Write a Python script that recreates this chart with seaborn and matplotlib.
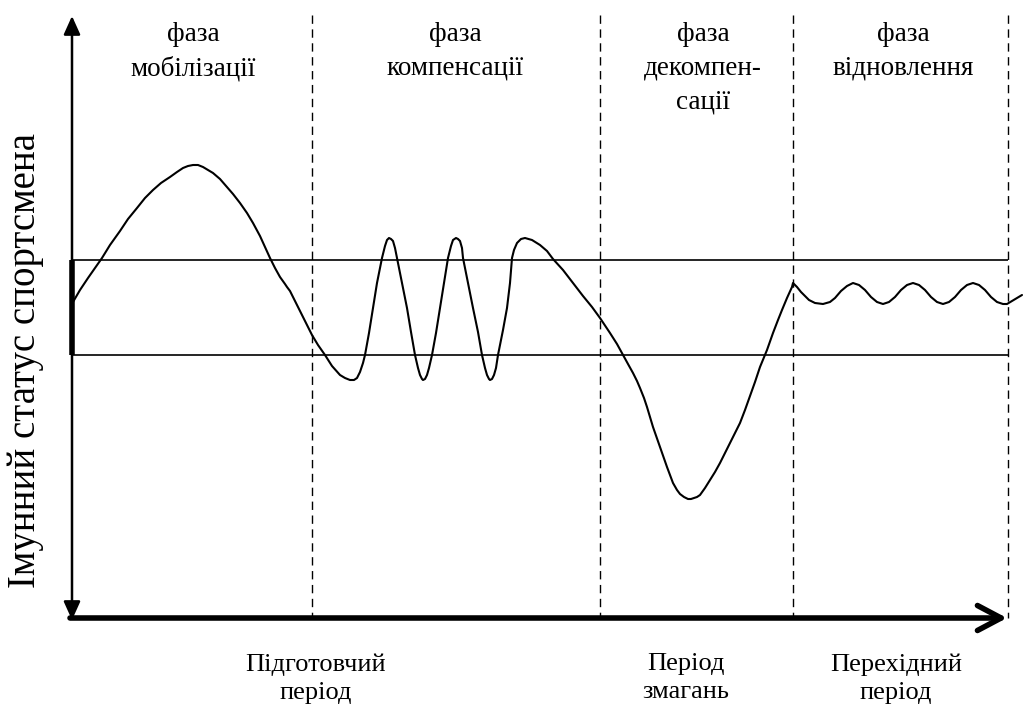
import numpy as np
import pandas as pd
import matplotlib
matplotlib.use('Agg')
import matplotlib.pyplot as plt
import seaborn as sns

# curve (x along time, y in picture rows, top = 0)
curve_x = [73, 80, 88, 95, 102, 110, 120, 128, 137, 145, 153, 161, 170, 177, 183, 188, 193, 198, 203, 208,
           213, 220, 227, 233, 240, 247, 253, 260, 265, 270, 275, 280, 285, 287, 290, 296, 303, 308, 312, 318,
           325, 332, 340, 345, 350, 354, 357, 360, 363, 365,
           369, 373, 377, 382, 385, 387, 389, 391, 393, 395, 397, 402, 407, 411, 415, 418, 420, 422, 423, 425,
           427, 429, 432,
           436, 440, 444, 448, 451, 453, 456, 458, 460, 462, 463, 468, 473, 478, 482, 485, 487, 489, 490, 492,
           494, 496, 498,
           503, 507, 510, 512, 514, 517, 521, 525, 532, 540, 547, 553, 563, 573, 583, 592, 600, 610, 617, 623,
           628, 633, 637, 640, 644, 647, 653, 660, 667, 673, 677, 680, 684, 688, 691, 694, 697, 700, 705, 710,
           715, 720, 730, 740, 745, 750, 755, 760, 767, 773, 778, 782, 787, 792,
           793, 797, 801, 805, 809, 815, 823, 830, 835, 841, 847, 853, 859, 865, 871, 877, 883, 889, 895, 901,
           907, 913, 919, 925, 931, 937, 943, 949, 955, 961, 967, 973, 979, 985, 991, 997, 1003, 1007, 1012,
           1017, 1022]
curve_y = [302, 290, 278, 268, 258, 245, 231, 219, 208, 198, 190, 183, 177, 172, 168, 166, 165, 165, 167, 170,
           173, 179, 187, 194, 203, 213, 223, 236, 247, 258, 268, 277, 284, 287, 291, 303, 317, 327, 335, 345,
           355, 366, 375, 378, 380, 380, 378, 372, 363, 355,
           333, 308, 283, 258, 246, 240, 238, 239, 241, 248, 258, 283, 308, 332, 355, 368, 375, 379, 380, 379,
           375, 368, 355,
           333, 308, 283, 258, 246, 240, 238, 239, 241, 248, 258, 283, 308, 332, 355, 368, 375, 379, 380, 379,
           375, 368, 355,
           330, 308, 283, 258, 250, 243, 239, 238, 240, 245, 251, 259, 270, 283, 296, 307, 318, 333, 344, 355,
           364, 373, 381, 388, 398, 407, 427, 447, 467, 483, 490, 494, 497, 499, 499, 498, 497, 495, 488, 480,
           472, 463, 443, 423, 410, 396, 382, 367, 350, 333, 320, 310, 298, 287,
           283, 287, 292, 296, 300, 303, 304, 302, 298, 291, 286, 283, 285, 290, 297, 302, 304, 302, 297, 290,
           285, 283, 285, 290, 297, 302, 304, 302, 297, 290, 285, 283, 285, 290, 297, 302, 304, 304, 301,
           298, 295]

band_rows = [260, 355]
phase_bounds = [312, 600, 793, 1008]

phase_labels = ['фаза\nмобілізації', 'фаза\nкомпенсації', 'фаза\nдекомпен-\nсації', 'фаза\nвідновлення']
phase_label_x = [193, 455, 703, 903]

period_labels = ['Підготовчий\nперіод', 'Період\nзмагань', 'Перехідний\nперіод']
period_label_x = [316, 686, 896]

y_label = 'Імунний статус спортсмена'

sns.set_theme(style='white')
plt.rcParams['font.family'] = ['Liberation Serif', 'DejaVu Serif']

fig = plt.figure(figsize=(10.23, 7.11), dpi=100)
ax = fig.add_axes([0, 0, 1, 1])
ax.set_xlim(0, 1023)
ax.set_ylim(711, 0)
ax.axis('off')

df = pd.DataFrame({'t': curve_x, 'status': curve_y})
sns.lineplot(data=df, x='t', y='status', sort=False, estimator=None, color='black', lw=1.5, ax=ax)

# normal band
ax.hlines(band_rows, 72, 1008, color='black', lw=1.2)
ax.plot([72, 72], band_rows, color='black', lw=4, solid_capstyle='butt')

# phase boundaries
ax.vlines(phase_bounds, 15, 618, color='black', lw=1.0, linestyles=(0, (6, 4)))

# axes arrows
ax.annotate('', xy=(72, 16), xytext=(72, 620),
            arrowprops=dict(arrowstyle='<|-|>,head_length=0.8,head_width=0.36', lw=1.8,
                            color='black', shrinkA=0, shrinkB=0, mutation_scale=14))
ax.annotate('', xy=(1007, 618), xytext=(70, 618),
            arrowprops=dict(arrowstyle='->,head_length=0.85,head_width=0.45', lw=4,
                            color='black', shrinkA=0, shrinkB=0, mutation_scale=20))

for lbl, x in zip(phase_labels, phase_label_x):
    ax.text(x, 22, lbl, ha='center', va='top', fontsize=19.5, linespacing=1.45, color='black')

for lbl, x in zip(period_labels, period_label_x):
    ax.text(x, 653, lbl, ha='center', va='top', fontsize=19, linespacing=1.38, color='black')

ax.text(26, 360, y_label, rotation=90, ha='center', va='center', fontsize=28, color='black')

fig.savefig('out.png', dpi=100)
